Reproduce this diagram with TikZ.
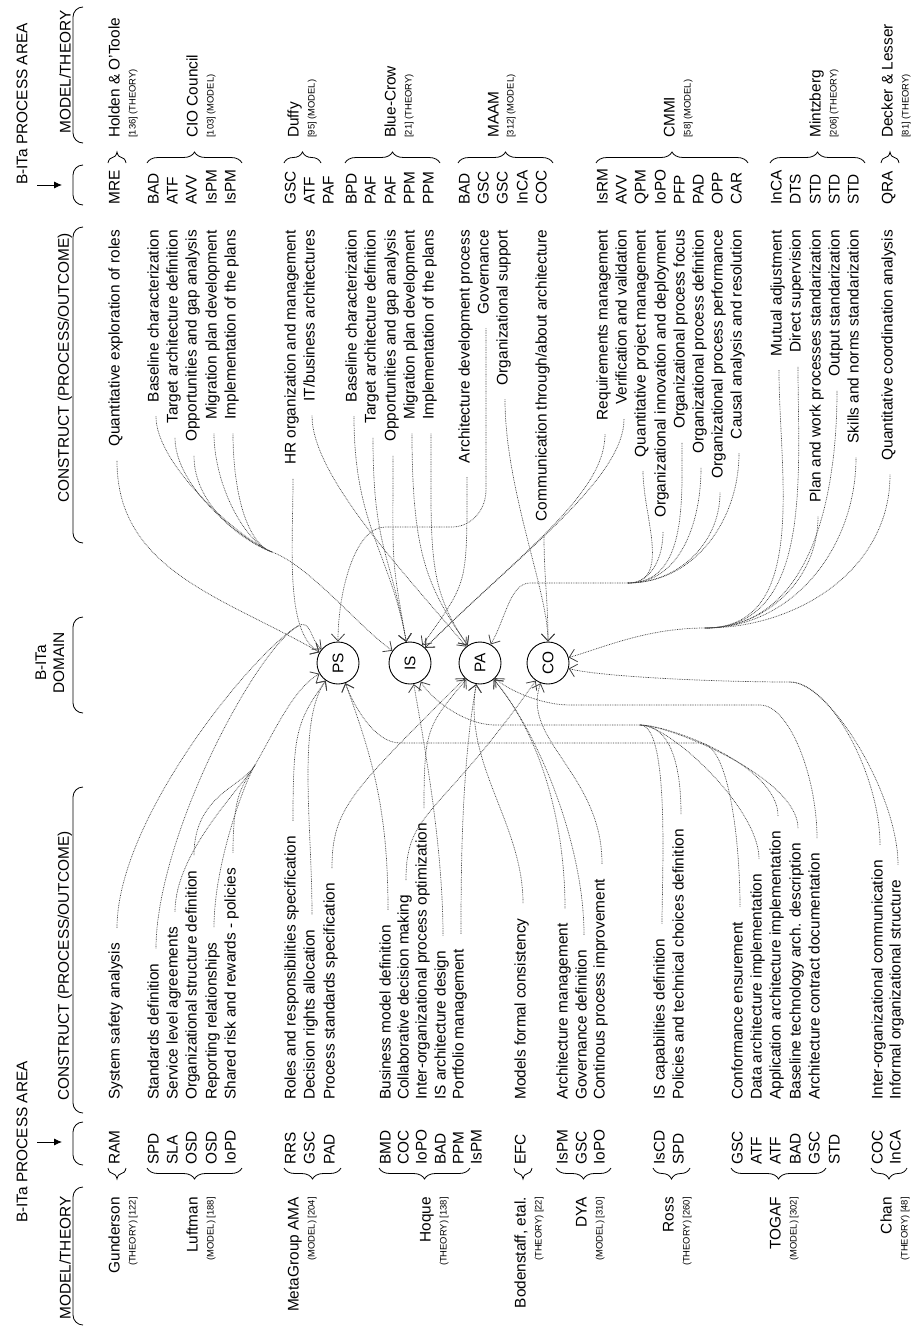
\documentclass[tikz,border=0pt]{standalone}
\usepackage{fontspec}
\setmainfont{Liberation Sans}
\usetikzlibrary{arrows.meta,decorations.pathreplacing,calc}
\begin{document}
\begin{tikzpicture}[x=1pt,y=1pt,
  lbl/.style={rotate=90,inner sep=0pt,font=\fontsize{15.4}{18}\selectfont},
  sub/.style={rotate=90,inner sep=0pt,font=\fontsize{9.4}{11}\selectfont},
  dom/.style={circle,draw,line width=0.9pt,minimum size=42pt,inner sep=0pt,font=\fontsize{15.4}{18}\selectfont},
  trail/.style={line width=0.7pt,black!75,dash pattern=on 0.8pt off 0.9pt},
  link/.style={trail,-{Straight Barb[length=7pt,width=13pt,line width=0.8pt]}},
  brcup/.style={decorate,decoration={brace,amplitude=11pt},line width=0.8pt},
  hbr/.style={line width=0.8pt,rounded corners=10pt},
]
\useasboundingbox (0,0) rectangle (919,-1328);

% ---------- headers ----------
\node[lbl] (hpaT) at (22,-104) {B-ITa PROCESS AREA};
\node[lbl] (hpaB) at (22,-1142) {B-ITa PROCESS AREA};
\coordinate (paT) at (62,-185);
\coordinate (paB) at (62,-1142);
\draw[line width=0.8pt,-{Latex[length=8pt,width=7pt]}] (37,-185) -- (paT);
\draw[line width=0.8pt,-{Latex[length=8pt,width=7pt]}] (37,-1142) -- (paB);
\node[lbl] (hmtT) at (65,-72) {MODEL/THEORY};
\node[lbl] (hcoT) at (65,-368) {CONSTRUCT (PROCESS/OUTCOME)};
\node[lbl,align=center,font=\fontsize{15.4}{18}\selectfont] (hdom) at (50,-663) {B-ITa\\DOMAIN};
\node[lbl] (hcoB) at (65,-966) {CONSTRUCT (PROCESS/OUTCOME)};
\node[lbl] (hmtB) at (65,-1258) {MODEL/THEORY};
% header brackets
\draw[hbr] (83,-7) -- (73,-7) -- (73,-143) -- (83,-143);
\draw[hbr] (83,-165) -- (73,-165) -- (73,-205) -- (83,-205);
\draw[hbr] (83,-227) -- (73,-227) -- (73,-543) -- (83,-543);
\draw[hbr] (83,-617) -- (73,-617) -- (73,-713) -- (83,-713);
\draw[hbr] (83,-787) -- (73,-787) -- (73,-1113) -- (83,-1113);
\draw[hbr] (83,-1122) -- (73,-1122) -- (73,-1165) -- (83,-1165);
\draw[hbr] (83,-1187) -- (73,-1187) -- (73,-1325) -- (83,-1325);

% ---------- domain circles ----------
\node[dom] (PS) at (338,-663) {\rotatebox{90}{PS}};
\node[dom] (IS) at (410,-663) {\rotatebox{90}{IS}};
\node[dom] (PA) at (480,-663) {\rotatebox{90}{PA}};
\node[dom] (CO) at (548,-663) {\rotatebox{90}{CO}};

% junctions where bundled links meet
\coordinate (jCIO) at (272,-552);
\coordinate (jCMMI) at (628,-583);
\coordinate (jMin) at (705,-628);
\coordinate (jRam) at (298,-626);
\coordinate (jLuf) at (255,-765);
\coordinate (jTog) at (640,-725);
\coordinate (jChan) at (790,-682);

% ================= upper half =================
% models / theories
\node[lbl,anchor=mid west] (mHo) at (117,-138) {Holden \& O'Toole};
\node[sub,anchor=mid west] (sHo) at (133,-138) {[136] (THEORY)};
\node[lbl,anchor=mid west] (mCIO) at (195,-138) {CIO Council};
\node[sub,anchor=mid west] (sCIO) at (211,-138) {[103] (MODEL)};
\node[lbl,anchor=mid west] (mDu) at (296,-138) {Duffy};
\node[sub,anchor=mid west] (sDu) at (312,-138) {[95] (MODEL)};
\node[lbl,anchor=mid west] (mBC) at (393,-138) {Blue-Crow};
\node[sub,anchor=mid west] (sBC) at (409,-138) {[21] (THEORY)};
\node[lbl,anchor=mid west] (mMA) at (496,-138) {MAAM};
\node[sub,anchor=mid west] (sMA) at (511,-138) {[312] (MODEL)};
\node[lbl,anchor=mid west] (mCM) at (672,-138) {CMMI};
\node[sub,anchor=mid west] (sCM) at (688,-138) {[58] (MODEL)};
\node[lbl,anchor=mid west] (mMi) at (818,-138) {Mintzberg};
\node[sub,anchor=mid west] (sMi) at (834,-138) {[206] (THEORY)};
\node[lbl,anchor=mid west] (mDL) at (890,-138) {Decker \& Lesser};
\node[sub,anchor=mid west] (sDL) at (906,-138) {[81] (THEORY)};
% braces
\draw[brcup] (108,-163) -- (126,-163);
\draw[brcup] (147,-163) -- (242,-163);
\draw[brcup] (284,-163) -- (321,-163);
\draw[brcup] (345,-163) -- (440,-163);
\draw[brcup] (458,-163) -- (553,-163);
\draw[brcup] (596,-163) -- (748,-163);
\draw[brcup] (770,-163) -- (865,-163);
\draw[brcup] (881,-163) -- (899,-163);
% process area codes
\foreach \r/\c in {117/MRE,156/BAD,175/ATF,194/AVV,214/IsPM,233/IsPM,
  293/GSC,312/ATF,331/PAF,354/BPD,373/PAF,393/PAF,412/PPM,431/PPM,
  467/BAD,486/GSC,505/GSC,525/InCA,544/COC,
  605/IsRM,624/AVV,643/QPM,663/IoPO,682/PFP,701/PAD,720/OPP,739/CAR,
  779/InCA,798/DTS,818/STD,837/STD,856/STD,890/QRA}
  \node[lbl,anchor=mid west] (cT\r) at (\r,-205) {\c};
% constructs
\node[lbl,anchor=mid east] (t0) at (117,-230) {Quantitative exploration of roles};
\node[lbl,anchor=mid east] (t1) at (156,-230) {Baseline characterization};
\node[lbl,anchor=mid east] (t2) at (175,-230) {Target architecture definition};
\node[lbl,anchor=mid east] (t3) at (194,-230) {Opportunities and gap analysis};
\node[lbl,anchor=mid east] (t4) at (214,-230) {Migration plan development};
\node[lbl,anchor=mid east] (t5) at (233,-230) {Implementation of the plans};
\node[lbl,anchor=mid east] (t6) at (293,-230) {HR organization and management};
\node[lbl,anchor=mid east] (t7) at (312,-230) {IT/business architectures};
\node[lbl,anchor=mid east] (t8) at (354,-230) {Baseline characterization};
\node[lbl,anchor=mid east] (t9) at (373,-230) {Target architecture definition};
\node[lbl,anchor=mid east] (t10) at (393,-230) {Opportunities and gap analysis};
\node[lbl,anchor=mid east] (t11) at (412,-230) {Migration plan development};
\node[lbl,anchor=mid east] (t12) at (431,-230) {Implementation of the plans};
\node[lbl,anchor=mid east] (t13) at (467,-230) {Architecture development process};
\node[lbl,anchor=mid east] (t14) at (486,-230) {Governance};
\node[lbl,anchor=mid east] (t15) at (505,-230) {Organizational support};
\node[lbl,anchor=mid east] (t16) at (544,-230) {Communication through/about architecture};
\node[lbl,anchor=mid east] (t17) at (605,-230) {Requirements management};
\node[lbl,anchor=mid east] (t18) at (624,-230) {Verification and validation};
\node[lbl,anchor=mid east] (t19) at (643,-230) {Quantitative project management};
\node[lbl,anchor=mid east] (t20) at (663,-230) {Organizational innovation and deployment};
\node[lbl,anchor=mid east] (t21) at (682,-230) {Organizational process focus};
\node[lbl,anchor=mid east] (t22) at (701,-230) {Organizational process definition};
\node[lbl,anchor=mid east] (t23) at (720,-230) {Organizational process performance};
\node[lbl,anchor=mid east] (t24) at (739,-230) {Causal analysis and resolution};
\node[lbl,anchor=mid east] (t25) at (779,-230) {Mutual adjustment};
\node[lbl,anchor=mid east] (t26) at (798,-230) {Direct supervision};
\node[lbl,anchor=mid east] (t27) at (818,-230) {Plan and work processes standarization};
\node[lbl,anchor=mid east] (t28) at (837,-230) {Output standarization};
\node[lbl,anchor=mid east] (t29) at (856,-230) {Skills and norms standarization};
\node[lbl,anchor=mid east] (t30) at (890,-230) {Quantitative coordination analysis};

% links from the upper constructs
\draw[link] ($(t0.mid west)+(0,-14)$) to[out=-90,in=150,out distance=110pt,in distance=110pt] (PS);
\draw[link] ($(t6.mid west)+(0,-14)$) to[out=-90,in=150,out distance=70pt,in distance=40pt] (PS);
\foreach \n in {t1,t2,t3,t4,t5}
  \draw[trail] ($(\n.mid west)+(0,-14)$) to[out=-90,in=160,out distance=50pt,in distance=30pt] (jCIO);
\draw[link] (jCIO) to[out=-20,in=145,out distance=40pt,in distance=40pt] (IS);
\draw[link] ($(t7.mid west)+(0,-14)$) to[out=-90,in=130,out distance=60pt,in distance=100pt] (PA);
\foreach \n in {t8,t9,t10}
  \draw[link] ($(\n.mid west)+(0,-14)$) to[out=-90,in=100,out distance=110pt,in distance=90pt] (IS);
\foreach \n in {t11,t12}
  \draw[link] ($(\n.mid west)+(0,-14)$) to[out=-90,in=125,out distance=120pt,in distance=70pt] (PA);
\draw[link] ($(t13.mid west)+(0,-14)$) to[out=-90,in=55,out distance=110pt,in distance=80pt] (IS);
\draw[link] ($(t14.mid west)+(0,-14)$) -- (486,-490) to[out=-90,in=0] (452,-527) -- (385,-527)
  to[out=180,in=90,out distance=30pt,in distance=50pt] (PS);
\draw[link] ($(t15.mid west)+(0,-14)$) to[out=-90,in=90,out distance=90pt,in distance=50pt] (CO);
\draw[link] ($(t16.mid west)+(0,-14)$) to[out=-90,in=90] (CO);
\foreach \n in {t17,t18}
  \draw[link] ($(\n.mid west)+(0,-14)$) to[out=-90,in=45,out distance=60pt,in distance=130pt] (IS);
\foreach \n in {t19,t20,t21,t22,t23,t24}
  \draw[trail] ($(\n.mid west)+(0,-14)$) to[out=-90,in=0] (jCMMI);
\draw[link] (jCMMI) -- (530,-583) to[out=180,in=60,out distance=20pt,in distance=30pt] (PA);
\foreach \n in {t25,t26,t27,t28,t29,t30}
  \draw[trail] ($(\n.mid west)+(0,-14)$) to[out=-90,in=0] (jMin);
\draw[link] (jMin) to[out=180,in=15,out distance=60pt,in distance=30pt] (CO);

% ================= lower half =================
\node[lbl,anchor=mid east] (mGu) at (117,-1197) {Gunderson};
\node[sub,anchor=mid east] (sGu) at (133,-1197) {(THEORY) [122]};
\node[lbl,anchor=mid east] (mLu) at (195,-1197) {Luftman};
\node[sub,anchor=mid east] (sLu) at (211,-1197) {(MODEL) [188]};
\node[lbl,anchor=mid east] (mMG) at (296,-1197) {MetaGroup AMA};
\node[sub,anchor=mid east] (sMG) at (312,-1197) {(MODEL) [204]};
\node[lbl,anchor=mid east] (mHq) at (428,-1197) {Hoque};
\node[sub,anchor=mid east] (sHq) at (444,-1197) {(THEORY) [138]};
\node[lbl,anchor=mid east] (mBo) at (523,-1197) {Bodenstaff, etal.};
\node[sub,anchor=mid east] (sBo) at (539,-1197) {(THEORY) [22]};
\node[lbl,anchor=mid east] (mDY) at (584,-1197) {DYA};
\node[sub,anchor=mid east] (sDY) at (600,-1197) {(MODEL) [310]};
\node[lbl,anchor=mid east] (mRo) at (671,-1197) {Ross};
\node[sub,anchor=mid east] (sRo) at (687,-1197) {(THEORY) [260]};
\node[lbl,anchor=mid east] (mTO) at (778,-1197) {TOGAF};
\node[sub,anchor=mid east] (sTO) at (794,-1197) {(MODEL) [302]};
\node[lbl,anchor=mid east] (mCh) at (889,-1197) {Chan};
\node[sub,anchor=mid east] (sCh) at (905,-1197) {(THEORY) [48]};
% braces (tips towards the model names)
\draw[brcup] (126,-1168) -- (108,-1168);
\draw[brcup] (242,-1168) -- (147,-1168);
\draw[brcup] (341,-1168) -- (284,-1168);
\draw[brcup] (470,-1168) -- (379,-1168);
\draw[brcup] (532,-1168) -- (514,-1168);
\draw[brcup] (611,-1168) -- (556,-1168);
\draw[brcup] (690,-1168) -- (653,-1168);
\draw[brcup] (826,-1168) -- (731,-1168);
\draw[brcup] (907,-1168) -- (871,-1168);
% process area codes
\foreach \r/\c in {117/RAM,156/SPD,175/SLA,194/OSD,214/OSD,233/IoPD,
  293/RRS,312/GSC,332/PAD,388/BMD,406/COC,424/IoPO,443/BAD,461/PPM,479/IsPM,
  523/EFC,565/IsPM,584/GSC,602/IoPO,662/IsCD,681/SPD,
  740/GSC,759/ATF,778/ATF,798/BAD,817/GSC,837/STD,880/COC,898/InCA}
  \node[lbl,anchor=mid west] (cB\r) at (\r,-1165) {\c};
% constructs
\node[lbl,anchor=mid west] (b0) at (117,-1100) {System safety analysis};
\node[lbl,anchor=mid west] (b1) at (156,-1100) {Standards definition};
\node[lbl,anchor=mid west] (b2) at (175,-1100) {Service level agreements};
\node[lbl,anchor=mid west] (b3) at (194,-1100) {Organizational structure definition};
\node[lbl,anchor=mid west] (b4) at (214,-1100) {Reporting relationships};
\node[lbl,anchor=mid west] (b5) at (233,-1100) {Shared risk and rewards - policies};
\node[lbl,anchor=mid west] (b6) at (293,-1100) {Roles and responsibilities specification};
\node[lbl,anchor=mid west] (b7) at (312,-1100) {Decision rights allocation};
\node[lbl,anchor=mid west] (b8) at (332,-1100) {Process standards specification};
\node[lbl,anchor=mid west] (b9) at (388,-1100) {Business model definition};
\node[lbl,anchor=mid west] (b10) at (406,-1100) {Collaborative decision making};
\node[lbl,anchor=mid west] (b11) at (424,-1100) {Inter-organizational process optimization};
\node[lbl,anchor=mid west] (b12) at (443,-1100) {IS architecture design};
\node[lbl,anchor=mid west] (b13) at (461,-1100) {Portfolio management};
\node[lbl,anchor=mid west] (b14) at (523,-1100) {Models formal consistency};
\node[lbl,anchor=mid west] (b15) at (565,-1100) {Architecture management};
\node[lbl,anchor=mid west] (b16) at (584,-1100) {Governance definition};
\node[lbl,anchor=mid west] (b17) at (602,-1100) {Continous process improvement};
\node[lbl,anchor=mid west] (b18) at (662,-1100) {IS capabilities definition};
\node[lbl,anchor=mid west] (b19) at (681,-1100) {Policies and technical choices definition};
\node[lbl,anchor=mid west] (b20) at (740,-1100) {Conformance ensurement};
\node[lbl,anchor=mid west] (b21) at (759,-1100) {Data architecture implementation};
\node[lbl,anchor=mid west] (b22) at (778,-1100) {Application architecture implementation};
\node[lbl,anchor=mid west] (b23) at (798,-1100) {Baseline technology arch. description};
\node[lbl,anchor=mid west] (b24) at (817,-1100) {Architecture contract documentation};
\node[lbl,anchor=mid west] (b25) at (880,-1100) {Inter-organizational communication};
\node[lbl,anchor=mid west] (b26) at (898,-1100) {Informal organizational structure};

% links from the lower constructs
\foreach \n in {b0,b1}
  \draw[trail] ($(\n.mid east)+(0,15)$) to[out=90,in=210,out distance=110pt,in distance=50pt] (jRam);
\draw[link] (jRam) to[out=30,in=140,out distance=15pt,in distance=15pt] (PS);
\foreach \n in {b2,b3,b4,b5}
  \draw[trail] ($(\n.mid east)+(0,15)$) to[out=90,in=240,out distance=60pt,in distance=25pt] (jLuf);
\draw[link] (jLuf) to[out=60,in=210,out distance=40pt,in distance=30pt] (PS);
\foreach \n in {b6,b7}
  \draw[link] ($(\n.mid east)+(0,15)$) to[out=90,in=-125,out distance=90pt,in distance=50pt] (PS);
\draw[link] ($(b8.mid east)+(0,15)$) to[out=90,in=-135,out distance=60pt,in distance=160pt] (PA);
\draw[link] ($(b9.mid east)+(0,15)$) to[out=90,in=-70,out distance=100pt,in distance=80pt] (PS);
\draw[link] ($(b10.mid east)+(0,15)$) to[out=90,in=-125,out distance=70pt,in distance=170pt] (CO);
\draw[link] ($(b11.mid east)+(0,15)$) to[out=90,in=-130,out distance=80pt,in distance=60pt] (PA);
\draw[link] ($(b12.mid east)+(0,15)$) to[out=90,in=-80,out distance=90pt,in distance=60pt] (IS);
\foreach \n in {b13,b14}
  \draw[link] ($(\n.mid east)+(0,15)$) to[out=90,in=-100,out distance=80pt,in distance=80pt] (PA);
\foreach \n in {b15,b16}
  \draw[link] ($(\n.mid east)+(0,15)$) to[out=90,in=-50,out distance=90pt,in distance=70pt] (PA);
\draw[link] ($(b17.mid east)+(0,15)$) to[out=90,in=-110,out distance=90pt,in distance=60pt] (CO);
\foreach \n in {b18,b19,b21,b22,b23}
  \draw[trail] ($(\n.mid east)+(0,15)$) to[out=90,in=0,out distance=50pt,in distance=30pt] (jTog);
\draw[link] (jTog) -- (495,-725) to[out=180,in=-60,out distance=30pt,in distance=20pt] (IS);
\draw[link] ($(b20.mid east)+(0,15)$) to[out=90,in=0,out distance=60pt,in distance=30pt] (700,-743) -- (400,-743)
    to[out=180,in=-70,out distance=25pt,in distance=25pt] (PS);
\draw[link] ($(b24.mid east)+(0,15)$) to[out=90,in=0,out distance=60pt,in distance=30pt] (760,-705) -- (570,-705)
    to[out=180,in=-45,out distance=30pt,in distance=15pt] (PA);
\foreach \n in {b25,b26}
  \draw[trail] ($(\n.mid east)+(0,15)$) to[out=90,in=0,out distance=70pt,in distance=40pt] (jChan);
\draw[link] (jChan) to[out=180,in=-15,out distance=80pt,in distance=30pt] (CO);
\end{tikzpicture}
\end{document}
